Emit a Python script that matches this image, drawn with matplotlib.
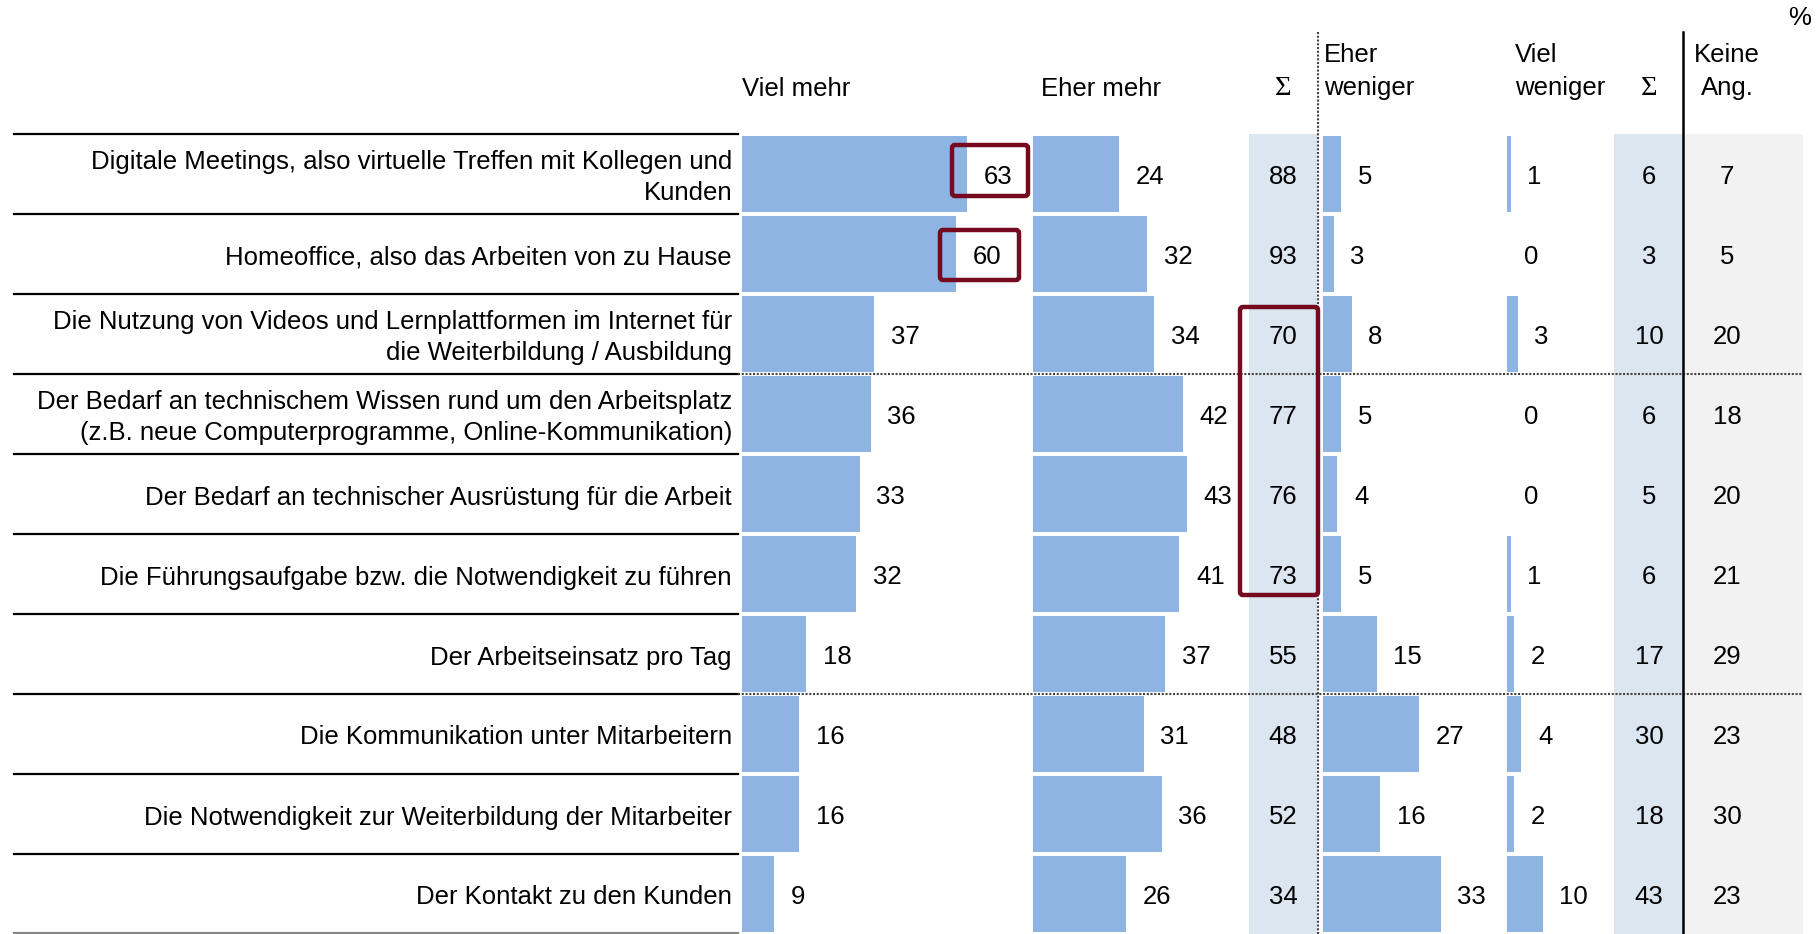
import matplotlib.pyplot as plt
from matplotlib.patches import Rectangle, FancyBboxPatch

plt.rcParams['font.family'] = ['Liberation Sans', 'DejaVu Sans']

items = [
    'Digitale Meetings, also virtuelle Treffen mit Kollegen und\nKunden',
    'Homeoffice, also das Arbeiten von zu Hause',
    'Die Nutzung von Videos und Lernplattformen im Internet für\ndie Weiterbildung / Ausbildung',
    'Der Bedarf an technischem Wissen rund um den Arbeitsplatz\n(z.B. neue Computerprogramme, Online-Kommunikation)',
    'Der Bedarf an technischer Ausrüstung für die Arbeit',
    'Die Führungsaufgabe bzw. die Notwendigkeit zu führen',
    'Der Arbeitseinsatz pro Tag',
    'Die Kommunikation unter Mitarbeitern',
    'Die Notwendigkeit zur Weiterbildung der Mitarbeiter',
    'Der Kontakt zu den Kunden',
]
viel_mehr = [63, 60, 37, 36, 33, 32, 18, 16, 16, 9]
eher_mehr = [24, 32, 34, 42, 43, 41, 37, 31, 36, 26]
sum_mehr = [88, 93, 70, 77, 76, 73, 55, 48, 52, 34]
eher_weniger = [5, 3, 8, 5, 4, 5, 15, 27, 16, 33]
viel_weniger = [1, 0, 3, 0, 0, 1, 2, 4, 2, 10]
sum_weniger = [6, 3, 10, 6, 5, 6, 17, 30, 18, 43]
keine_ang = [7, 5, 20, 18, 20, 21, 29, 23, 30, 23]

# layout in pixels of the 1816x934 canvas
W, H = 1816, 934
TOP, ROW = 134, 80
PX = 3.57          # pixels per percent
FS = 18.5
DY = 3.5           # small downward nudge for text
BAR = '#8DB4E2'
RED = '#74091f'
n = len(items)

fig = plt.figure(figsize=(W / 100, H / 100), dpi=100)
bg = fig.add_axes([0, 0, 1, 1])
bg.set_xlim(0, W)
bg.set_ylim(H, 0)
bg.axis('off')


def row_mid(i):
    return TOP + ROW * i + ROW / 2 + DY


# shaded sum / no-answer columns
bg.add_patch(Rectangle((1249, TOP), 68, H - TOP, color='#DCE6F1', lw=0))
bg.add_patch(Rectangle((1614, TOP), 69, H - TOP, color='#DCE6F1', lw=0))
bg.add_patch(Rectangle((1685, TOP), 118, H - TOP, color='#F2F2F2', lw=0))


def bar_axes(x0, x1):
    ax = fig.add_axes([x0 / W, 0, (x1 - x0) / W, (H - TOP) / H])
    ax.set_xlim(0, (x1 - x0) / PX)
    ax.set_ylim(n - 0.5, -0.5)
    ax.axis('off')
    return ax


cols = [(742, 1030, viel_mehr), (1033, 1249, eher_mehr),
        (1323, 1507, eher_weniger), (1507, 1614, viel_weniger)]
for x0, x1, vals in cols:
    ax = bar_axes(x0, x1)
    ax.barh(range(n), vals, height=0.96, color=BAR, lw=0)
    for i, v in enumerate(vals):
        ax.annotate(str(v), (v, i), xytext=(12, -DY * 0.72),
                    textcoords='offset points',
                    ha='left', va='center', fontsize=FS)

# row labels and separators
for i, lab in enumerate(items):
    bg.text(732, row_mid(i), lab, ha='right', va='center', fontsize=FS,
            linespacing=1.4)
    bg.text(1283, row_mid(i), str(sum_mehr[i]), ha='center', va='center', fontsize=FS)
    bg.text(1649, row_mid(i), str(sum_weniger[i]), ha='center', va='center', fontsize=FS)
    bg.text(1727, row_mid(i), str(keine_ang[i]), ha='center', va='center', fontsize=FS)
for i in range(n):
    bg.plot([14, 738], [TOP + ROW * i] * 2, color='black', lw=1.6)
bg.plot([14, 738], [H - 1] * 2, color='#888888', lw=1.6)
for i in (3, 7):
    bg.plot([738, 1803], [TOP + ROW * i] * 2, color='#444444', lw=1.5, ls=(0, (1, 0.8)))

bg.plot([1318, 1318], [32, H], color='#444444', lw=1.5, ls=(0, (1, 0.8)))
bg.plot([1683, 1683], [32, H], color='black', lw=1.8)

# headers
hy1, hy2 = 51 + DY, 85 + DY
sig = dict(family='Liberation Serif', fontsize=FS + 2)
bg.text(742, hy2, 'Viel mehr', ha='left', va='center', fontsize=FS)
bg.text(1041, hy2, 'Eher mehr', ha='left', va='center', fontsize=FS)
bg.text(1283, hy2, 'Σ', ha='center', va='center', **sig)
bg.text(1324, hy1, 'Eher', ha='left', va='center', fontsize=FS)
bg.text(1324, hy2, 'weniger', ha='left', va='center', fontsize=FS)
bg.text(1515, hy1, 'Viel', ha='left', va='center', fontsize=FS)
bg.text(1515, hy2, 'weniger', ha='left', va='center', fontsize=FS)
bg.text(1649, hy2, 'Σ', ha='center', va='center', **sig)
bg.text(1727, hy1, 'Keine', ha='center', va='center', fontsize=FS)
bg.text(1727, hy2, 'Ang.', ha='center', va='center', fontsize=FS)
bg.text(1800, 18, '%', ha='center', va='center', fontsize=FS)

# highlight boxes (drawn on top of the bar axes)
for x0, y0, x1, y1 in [(952, 145, 1028, 196), (940, 230, 1019, 280),
                       (1240, 307, 1318, 595)]:
    box = FancyBboxPatch((x0, y0), x1 - x0, y1 - y0,
                         boxstyle='round,pad=0,rounding_size=3',
                         fill=False, ec=RED, lw=3.2, zorder=10,
                         transform=bg.transData)
    fig.add_artist(box)

fig.savefig('out.png', dpi=100)
